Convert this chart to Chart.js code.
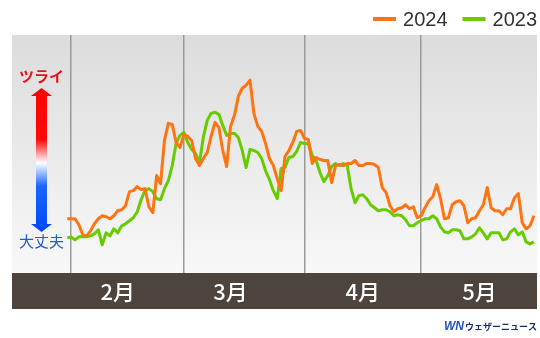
<!DOCTYPE html>
<html>
<head>
<meta charset="utf-8">
<script src="https://cdn.jsdelivr.net/npm/chart.js@4"></script>
<style>
  body { margin: 0; background: #fff; }
  #wrap { width: 540px; height: 338px; position: relative; }
</style>
</head>
<body>
<div id="wrap"><canvas id="chart"></canvas></div>
<script>
// day 0 = 2/1, series start on 1/31 (day -1), one value per day
const firstDay = -1;
const series2024 = [
  54, 54, 54, 48, 38, 37, 42, 49, 54, 57, 56,
  54, 57, 62, 63, 67, 81, 82, 86, 83, 84,
  66, 60, 97, 89, 132, 149, 148, 130, 125, 138,
  136, 132, 114, 107, 114, 120, 136, 150, 145, 122,
  106, 146, 157, 176, 184, 187, 192, 159, 146, 141,
  129, 114, 107, 94, 82, 116, 122, 130, 141, 142,
  134, 133, 109, 115, 113, 112, 112, 90, 107, 108,
  107, 109, 109, 112, 107, 107, 109, 109, 108, 105,
  85, 80, 67, 61, 64, 65, 68, 64, 66, 55,
  57, 65, 72, 76, 88, 74, 54, 55, 68, 71,
  72, 67, 50, 54, 55, 62, 68, 85, 65, 62,
  62, 58, 64, 64, 75, 79, 50, 44, 47, 57
];
const series2023 = [
  35, 36, 33, 36, 36, 36, 37, 39, 43, 28, 40,
  37, 44, 40, 47, 49, 52, 55, 61, 73, 82,
  84, 81, 74, 73, 84, 92, 107, 129, 137, 140,
  130, 123, 119, 110, 135, 152, 159, 160, 158, 147,
  137, 139, 139, 135, 122, 105, 123, 122, 120, 114,
  102, 93, 82, 74, 104, 105, 115, 116, 121, 130,
  129, 129, 117, 112, 100, 91, 97, 106, 109, 107,
  109, 107, 84, 70, 77, 78, 74, 68, 65, 62,
  63, 63, 61, 57, 58, 57, 53, 47, 47, 50,
  52, 54, 54, 57, 54, 46, 41, 40, 43, 43,
  42, 34, 34, 36, 39, 45, 40, 34, 40, 40,
  40, 33, 34, 41, 44, 38, 41, 31, 29, 31
];
const monthStarts = [0, 29, 60, 90];      // 2/1, 3/1, 4/1, 5/1
const monthLabelDays = [12, 41, 75, 105];
const monthLabels = ['2月', '3月', '4月', '5月'];
const seriesNames = ['2024', '2023'];
const seriesColors = ['#ff7410', '#66cc00'];

const toPoints = arr => arr.map((v, i) => ({ x: firstDay + i, y: v }));
const JP = '"Noto Sans CJK JP", sans-serif';

const backdrop = {
  id: 'backdrop',
  beforeDraw(chart) {
    const { ctx, chartArea: a } = chart;
    const g = ctx.createLinearGradient(0, a.top, 0, a.bottom);
    g.addColorStop(0, '#dcdcdc');
    g.addColorStop(1, '#f8f8f8');
    ctx.save();
    ctx.fillStyle = g;
    ctx.fillRect(a.left, a.top, a.right - a.left, a.bottom - a.top);
    const s = chart.scales.x2;
    ctx.fillStyle = '#4e443e';
    ctx.fillRect(s.left, s.top, s.right - s.left, s.bottom - s.top);
    ctx.restore();
  }
};

const decor = {
  id: 'decor',
  afterDraw(chart) {
    const ctx = chart.ctx;
    ctx.save();
    // gradient arrow
    const cx = 41.5, top = 88, bot = 232, head = 8, hw = 10.5, sw = 5.5;
    const g = ctx.createLinearGradient(0, top, 0, bot);
    g.addColorStop(0, '#ff0000');
    g.addColorStop(0.36, '#ff0a0a');
    g.addColorStop(0.52, '#ffffff');
    g.addColorStop(0.68, '#1a66ff');
    g.addColorStop(1, '#0046ff');
    ctx.fillStyle = g;
    ctx.beginPath();
    ctx.moveTo(cx, top);
    ctx.lineTo(cx + hw, top + head);
    ctx.lineTo(cx + sw, top + head);
    ctx.lineTo(cx + sw, bot - head);
    ctx.lineTo(cx + hw, bot - head);
    ctx.lineTo(cx, bot);
    ctx.lineTo(cx - hw, bot - head);
    ctx.lineTo(cx - sw, bot - head);
    ctx.lineTo(cx - sw, top + head);
    ctx.lineTo(cx - hw, top + head);
    ctx.closePath();
    ctx.fill();

    ctx.textAlign = 'center';
    ctx.textBaseline = 'middle';
    ctx.font = 'bold 15px ' + JP;
    ctx.fillStyle = '#e8101c';
    ctx.fillText('ツライ', cx, 76);
    ctx.font = '15px ' + JP;
    ctx.fillStyle = '#1f5fcf';
    ctx.fillText('大丈夫', cx, 241);

    // legend, right aligned
    ctx.font = '20px "Liberation Sans", Arial, sans-serif';
    ctx.textAlign = 'left';
    let x = 537;
    for (let i = seriesNames.length - 1; i >= 0; i--) {
      const w = ctx.measureText(seriesNames[i]).width;
      x -= w;
      ctx.fillStyle = '#333';
      ctx.fillText(seriesNames[i], x, 20);
      x -= 7 + 23;
      ctx.fillStyle = seriesColors[i];
      ctx.fillRect(x, 17, 23, 4);
      x -= 15;
    }

    // logo
    ctx.textAlign = 'right';
    ctx.font = 'bold 9px ' + JP;
    ctx.fillStyle = '#1c2e6a';
    ctx.fillText('ウェザーニュース', 537, 327);
    ctx.textAlign = 'left';
    ctx.font = 'italic bold 12px "Liberation Sans", Arial, sans-serif';
    ctx.fillStyle = '#2056b8';
    ctx.fillText('WN', 444, 327);
    ctx.restore();
  }
};

new Chart(document.getElementById('chart'), {
  type: 'line',
  data: {
    datasets: [
      { label: seriesNames[0], data: toPoints(series2024), borderColor: seriesColors[0] },
      { label: seriesNames[1], data: toPoints(series2023), borderColor: seriesColors[1] }
    ]
  },
  options: {
    responsive: true,
    maintainAspectRatio: false,
    animation: false,
    layout: { padding: { left: 12, right: 3, top: 35, bottom: 29 } },
    elements: {
      line: { borderWidth: 3, tension: 0, borderJoinStyle: 'round', fill: false },
      point: { radius: 0 }
    },
    plugins: { legend: { display: false }, tooltip: { enabled: false } },
    scales: {
      x: {
        type: 'linear', min: -15.2, max: 119.8, weight: 0,
        afterBuildTicks: s => { s.ticks = monthStarts.map(v => ({ value: v })); },
        afterFit: s => { s.height = 0; },
        ticks: { display: false },
        grid: { color: '#9a9a9a', lineWidth: 1.5, drawTicks: false },
        border: { display: false }
      },
      x2: {
        type: 'linear', position: 'bottom', min: -15.2, max: 119.8, weight: 1,
        afterBuildTicks: s => { s.ticks = monthLabelDays.map(v => ({ value: v })); },
        afterFit: s => { s.height = 36; },
        ticks: {
          callback: (v, i) => monthLabels[i],
          color: '#ffffff', padding: 5, maxRotation: 0, autoSkip: false,
          font: { family: JP, size: 22, weight: '500' }
        },
        grid: { display: false, drawTicks: false },
        border: { display: false }
      },
      y: { display: false, min: 0, max: 237 }
    }
  },
  plugins: [backdrop, decor]
});
</script>
</body>
</html>
